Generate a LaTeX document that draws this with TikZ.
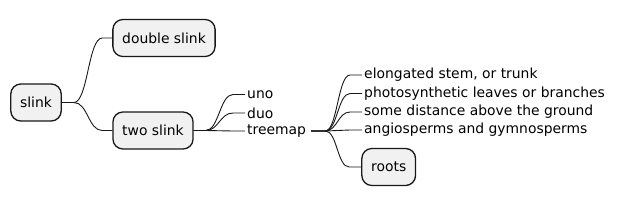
\documentclass[tikz,border=0pt]{standalone}
\usepackage{fontspec}
\setmainfont{DejaVu Sans}
\usetikzlibrary{calc}

\definecolor{boxfill}{HTML}{F1F1F1}
\definecolor{ink}{HTML}{181818}

\begin{document}
\begin{tikzpicture}[x=1pt, y=-1pt,
  every node/.style={font=\fontsize{13.9}{16}\selectfont, text=black},
  topic/.style={draw=ink, fill=boxfill, line width=1.3pt, rounded corners=10pt,
    minimum height=37pt, inner xsep=9.3pt},
  leaf/.style={anchor=west, inner xsep=2pt, inner ysep=1pt},
  branch/.style={draw=ink, line width=0.9pt}]
  \useasboundingbox (0,0) rectangle (621,206);
  % boxed topics
  \node[topic] (slink) at (36,102.5) {slink};
  \node[topic] (dslink) at (164,38) {double slink};
  \node[topic] (tslink) at (153,130.5) {two slink};
  \node[topic] (roots) at (388.7,167) {roots};
  % plain text topics
  \node[leaf] (uno) at (245,94.5) {uno};
  \node[leaf] (duo) at (245,113) {duo};
  \node[leaf] (treemap) at (245,131) {treemap};
  \node[leaf] (stem) at (362,75) {elongated stem, or trunk};
  \node[leaf] (leaves) at (362,93.5) {photosynthetic leaves or branches};
  \node[leaf] (height) at (362,112) {some distance above the ground};
  \node[leaf] (sperms) at (362,130) {angiosperms and gymnosperms};
  % slink
  \draw[branch] (slink.east) -- ++(12,0) .. controls +(14,0) and +(-14,0) .. ([xshift=-10pt]dslink.west) -- (dslink.west);
  \draw[branch] (slink.east) -- ++(12,0) .. controls +(14,0) and +(-14,0) .. ([xshift=-10pt]tslink.west) -- (tslink.west);
  % two slink
  \draw[branch] (tslink.east) -- ++(12,0) .. controls +(13,0) and +(-13,0) .. ([xshift=-12pt]uno.west) -- (uno.west);
  \draw[branch] (tslink.east) -- ++(12,0) .. controls +(13,0) and +(-13,0) .. ([xshift=-12pt]duo.west) -- (duo.west);
  \draw[branch] (tslink.east) -- ++(12,0) .. controls +(13,0) and +(-13,0) .. ([xshift=-12pt]treemap.west) -- (treemap.west);
  % treemap
  \coordinate (fork) at ([xshift=3pt]treemap.east);
  \draw[branch] (fork) -- ++(14,0) .. controls +(12,0) and +(-12,0) .. ([xshift=-12pt]stem.west) -- (stem.west);
  \draw[branch] (fork) -- ++(14,0) .. controls +(12,0) and +(-12,0) .. ([xshift=-12pt]leaves.west) -- (leaves.west);
  \draw[branch] (fork) -- ++(14,0) .. controls +(12,0) and +(-12,0) .. ([xshift=-12pt]height.west) -- (height.west);
  \draw[branch] (fork) -- ++(14,0) .. controls +(12,0) and +(-12,0) .. ([xshift=-12pt]sperms.west) -- (sperms.west);
  \draw[branch] (fork) -- ++(14,0) .. controls +(12,0) and +(-12,0) .. ([xshift=-12pt]roots.west) -- (roots.west);
\end{tikzpicture}
\end{document}
